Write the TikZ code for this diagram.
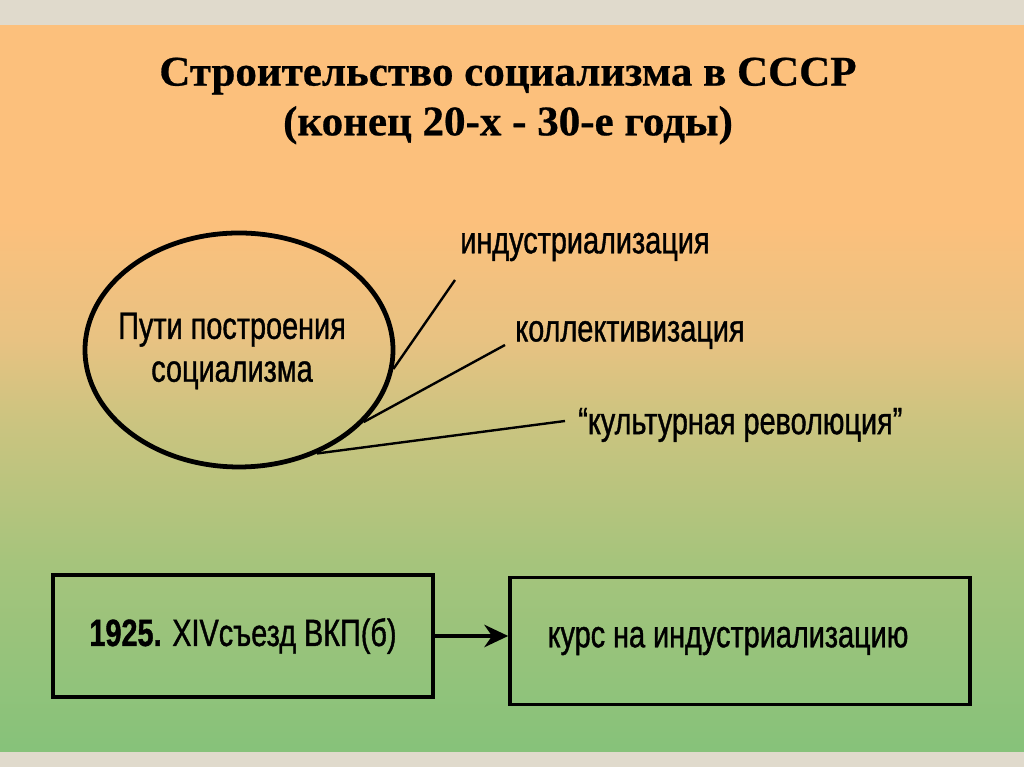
\documentclass[tikz,border=0pt]{standalone}
\usepackage{fontspec}
\setmainfont{Liberation Sans}[FakeStretch=0.76,FakeBold=1]
\newfontfamily\titlefont{Liberation Serif}[FakeStretch=1.02,FakeBold=0.6]
\usetikzlibrary{shapes.geometric,arrows.meta,positioning}

\definecolor{frame}{HTML}{E0DACC}
\definecolor{paperA}{HTML}{86C27A}
\definecolor{paperB}{HTML}{A6C47C}
\definecolor{paperC}{HTML}{CCC480}
\definecolor{paperD}{HTML}{E8C282}
\definecolor{paperE}{HTML}{FCC07C}
% tikz maps 25bp..75bp of a shading onto the path
\pgfdeclareverticalshading{paper}{100bp}{color(0bp)=(paperA); color(25bp)=(paperA);
  color(38.2bp)=(paperB); color(47.9bp)=(paperC); color(53.4bp)=(paperD);
  color(61.6bp)=(paperE); color(100bp)=(paperE)}

\tikzset{
    heading/.style={
        align=center,
        font=\titlefont\bfseries\fontsize{30}{35.4}\selectfont
    },
    way/.style={
        draw,
        ellipse,
        line width=3.4pt,
        minimum width=7.7cm,
        minimum height=5.85cm
    },
    waytext/.style={
        align=center,
        font=\fontsize{27}{30.5}\selectfont
    },
    item/.style={
        anchor=west,
        inner sep=0pt,
        font=\fontsize{27}{30}\selectfont
    },
    branch/.style={line width=1.7pt},
    event/.style={
        draw,
        line width=2.6pt,
        font=\fontsize{27}{30}\selectfont
    }
}

\begin{document}
\begin{tikzpicture}
  \useasboundingbox (0,0) rectangle (25.6,19.175);
  \fill[frame] (0,0) rectangle (25.6,19.175);
  \shade[shading=paper] (0,0.375) rectangle (25.6,18.525);

  \node[heading] (Title) at (12.7,16.65) {Строительство социализма в СССР\\(конец 20-х - 30-е годы)};

  % ways of building
  \node[way] (W) at (5.975,10.425) {};
  \node[waytext] (Wt) at (5.8,10.4) {Пути построения\\социализма};
  \node[item] (I1) at (11.5,13.0) {индустриализация};
  \node[item] (I2) at (12.875,10.8) {коллективизация};
  \node[item] (I3) at (14.45,8.55) {“культурная революция”};

  \coordinate (e1) at (11.375,12.175);
  \coordinate (e2) at (12.625,10.55);
  \coordinate (e3) at (14.125,8.65);
  \draw[branch] (W.-7) -- (e1);
  \draw[branch] (W.-30) -- (e2);
  \draw[branch] (W.-53) -- (e3);

  % congress
  \node[event, minimum width=9.5cm, minimum height=3.05cm] (Y) at (6.075,3.275) {\textbf{1925.} XIVсъезд ВКП(б)};
  \node[event, minimum width=11.5cm, minimum height=3.175cm] (K) at (18.5,3.15) {курс на индустриализацию\kern0.6cm};
  \draw[-{Stealth[length=17pt,width=16pt]}, line width=2.2pt] (Y.east) -- (Y.east -| K.west);

\end{tikzpicture}
\end{document}
